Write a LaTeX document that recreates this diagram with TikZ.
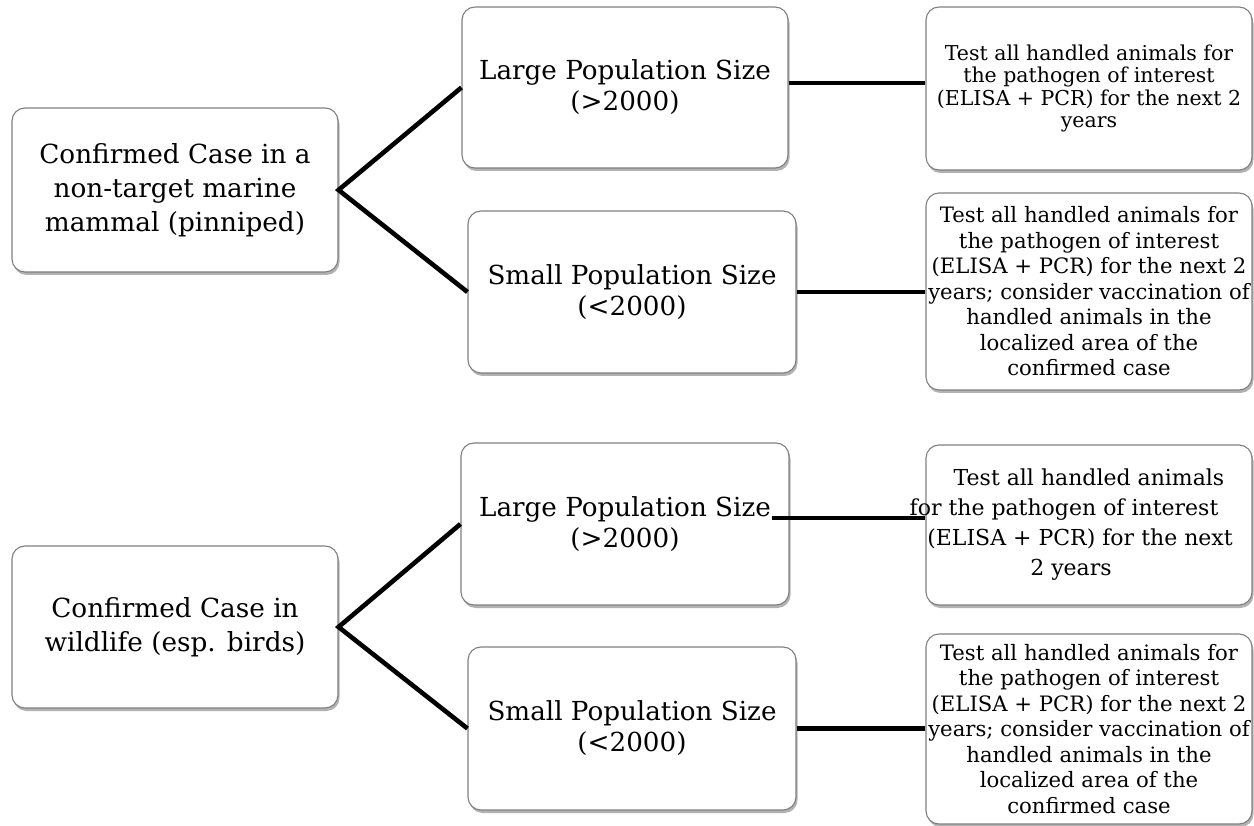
\documentclass[tikz,border=0pt]{standalone}
\usepackage{fontspec}
\setmainfont{DejaVu Serif}
\usetikzlibrary{shadows}
\newcommand{\shiftline}[2]{\makebox[0pt]{\hspace*{#1}#2}}
\tikzset{
  box/.style={draw=black!50, line width=1.1pt, rounded corners=13pt, fill=white,
    inner sep=0pt, align=center,
    drop shadow={shadow xshift=1.5pt, shadow yshift=-3pt, opacity=0.3, fill=black}},
  conn/.style={line width=4.6pt, black},
  bigtxt/.style={font=\fontsize{26.3}{34}\selectfont},
  midtxt/.style={font=\fontsize{26.2}{31}\selectfont},
  smalltxt/.style={font=\fontsize{21.2}{25.5}\selectfont},
}
\begin{document}
\begin{tikzpicture}[x=1pt,y=-1pt]
\useasboundingbox (0,0) rectangle (1254,826);
% upper group
\node[box, bigtxt, minimum width=326pt, minimum height=164pt] (A1) at (175,190)
  {Confirmed Case in a\\non-target marine\\mammal (pinniped)};
\node[box, midtxt, minimum width=326pt, minimum height=161pt] (B1) at (625,87.5)
  {Large Population Size\\(>2000)};
\node[box, midtxt, minimum width=328pt, minimum height=162pt] (C1) at (632,292)
  {Small Population Size\\(<2000)};
\node[box, font=\fontsize{20.5}{22.5}\selectfont, minimum width=326pt, minimum height=163pt] (R1) at (1089,88.5)
  {Test all handled animals for\\the pathogen of interest\\(ELISA + PCR) for the next 2\\years};
\node[box, smalltxt, minimum width=326pt, minimum height=197pt] (R2) at (1089,291.5)
  {Test all handled animals for\\the pathogen of interest\\(ELISA + PCR) for the next 2\\years; consider vaccination of\\handled animals in the\\localized area of the\\confirmed case};
% lower group
\node[box, bigtxt, minimum width=326pt, minimum height=162pt] (A2) at (175,627)
  {Confirmed Case in\\wildlife (esp. birds)};
\node[box, midtxt, minimum width=328pt, minimum height=162pt] (B2) at (625,524)
  {Large Population Size\\(>2000)};
\node[box, midtxt, minimum width=328pt, minimum height=163pt] (C2) at (632,728.5)
  {Small Population Size\\(<2000)};
\node[box, font=\fontsize{22}{30}\selectfont, minimum width=326pt, minimum height=160pt] (R3) at (1089,525)
  {Test all handled animals\\\shiftline{-50pt}{for the pathogen of interest}\\\shiftline{-18pt}{(ELISA + PCR) for the next}\\\shiftline{-36pt}{2 years}};
\node[box, smalltxt, minimum width=326pt, minimum height=190pt] (R4) at (1089,729)
  {Test all handled animals for\\the pathogen of interest\\(ELISA + PCR) for the next 2\\years; consider vaccination of\\handled animals in the\\localized area of the\\confirmed case};
% connectors
\draw[conn] (B1.west) -- (A1.east) -- (C1.west);
\draw[conn] (B2.west) -- (A2.east) -- (C2.west);
\coordinate (k1) at ([yshift=4.5pt]B1.east);
\draw[conn] (k1) -- (k1 -| R1.west);
\draw[conn] (C1.east) -- (C1.east -| R2.west);
\coordinate (k3) at ([xshift=-18pt,yshift=6pt]B2.east);
\draw[conn] (k3) -- (k3 -| R3.west);
\draw[conn] (C2.east) -- (C2.east -| R4.west);
\end{tikzpicture}
\end{document}
